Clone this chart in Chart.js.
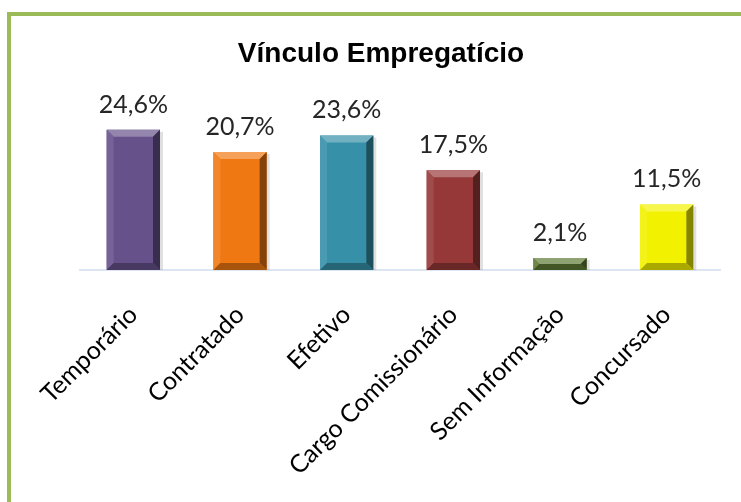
<!DOCTYPE html>
<html>
<head>
<meta charset="utf-8">
<script src="https://cdn.jsdelivr.net/npm/chart.js@4"></script>
<style>
  body { margin: 0; background: #fff; overflow: hidden; }
  #frame { position: absolute; left: 7px; top: 12px; width: 760px; height: 520px;
           border-top: 4px solid #9BBB59; border-left: 4px solid #9BBB59; }
  #chart { position: absolute; left: 0; top: 0; }
</style>
</head>
<body>
<div id="frame"></div>
<canvas id="chart" width="741" height="502"></canvas>
<script>
// data
const categories = ['Temporário', 'Contratado', 'Efetivo', 'Cargo Comissionário', 'Sem Informação', 'Concursado'];
const percents = [24.6, 20.7, 23.6, 17.5, 2.1, 11.5];
const barColors = ['#66518A', '#F07812', '#3690A8', '#963838', '#5E7A35', '#F2F200'];

function shade(hex, f) {
  let n = parseInt(hex.slice(1), 16);
  let r = (n >> 16) & 255, g = (n >> 8) & 255, b = n & 255;
  const mix = (c) => f >= 0 ? Math.round(c + (255 - c) * f) : Math.round(c * (1 + f));
  return 'rgb(' + mix(r) + ',' + mix(g) + ',' + mix(b) + ')';
}

// bevel look on the bars
const bevel = {
  id: 'bevel',
  afterDatasetsDraw(chart) {
    const ctx = chart.ctx;
    chart.getDatasetMeta(0).data.forEach((bar, i) => {
      const p = bar.getProps(['x', 'y', 'base', 'width'], true);
      const l = p.x - p.width / 2, r = p.x + p.width / 2, t = p.y, bo = p.base;
      const b = Math.min(7, (bo - t) / 2);
      const c = barColors[i];
      const poly = (pts, col) => {
        ctx.beginPath();
        ctx.moveTo(pts[0][0], pts[0][1]);
        pts.slice(1).forEach(q => ctx.lineTo(q[0], q[1]));
        ctx.closePath();
        ctx.fillStyle = col;
        ctx.fill();
      };
      ctx.save();
      // soft shadow on the right
      ctx.fillStyle = 'rgba(0,0,0,0.12)';
      ctx.fillRect(r, t + 2, 3, bo - t - 2);
      poly([[l, t], [r, t], [r - b, t + b], [l + b, t + b]], shade(c, 0.3));
      poly([[l, t], [l + b, t + b], [l + b, bo - b], [l, bo]], shade(c, 0.1));
      poly([[r, t], [r, bo], [r - b, bo - b], [r - b, t + b]], shade(c, -0.45));
      poly([[l, bo], [r, bo], [r - b, bo - b], [l + b, bo - b]], shade(c, -0.3));
      ctx.restore();
    });
  }
};

// value labels above the bars
const valueLabels = {
  id: 'valueLabels',
  afterDatasetsDraw(chart) {
    const ctx = chart.ctx;
    ctx.save();
    ctx.font = '25px Lato';
    ctx.fillStyle = '#262626';
    ctx.textAlign = 'center';
    ctx.textBaseline = 'alphabetic';
    chart.getDatasetMeta(0).data.forEach((bar, i) => {
      ctx.fillText(percents[i].toFixed(1).replace('.', ',') + '%', bar.x, bar.y - 17);
    });
    ctx.restore();
  }
};

new Chart(document.getElementById('chart'), {
  type: 'bar',
  data: {
    labels: categories,
    datasets: [{
      data: percents,
      backgroundColor: barColors,
      categoryPercentage: 1,
      barPercentage: 0.5
    }]
  },
  options: {
    responsive: false,
    animation: false,
    layout: { padding: { left: 42, right: 21, top: 12, bottom: 0 } },
    plugins: {
      legend: { display: false },
      tooltip: { enabled: false },
      title: {
        display: true,
        text: 'Vínculo Empregatício',
        font: { family: 'Liberation Sans', size: 28, weight: 'bold' },
        color: '#000',
        padding: { top: 25, bottom: 28.4 }
      }
    },
    scales: {
      x: {
        grid: { display: false },
        border: { color: '#DCE6F2', width: 2 },
        ticks: {
          minRotation: 45, maxRotation: 45, padding: 22,
          font: { family: 'Lato', size: 25 }, color: '#000'
        },
        afterFit(s) { s.height = 232; s.paddingLeft = 0; s.paddingRight = 0; }
      },
      y: {
        min: 0, max: 30,
        grid: { display: false },
        border: { display: false },
        ticks: { display: false },
        afterFit(s) { s.width = 38; }
      }
    }
  },
  plugins: [bevel, valueLabels]
});
</script>
</body>
</html>
